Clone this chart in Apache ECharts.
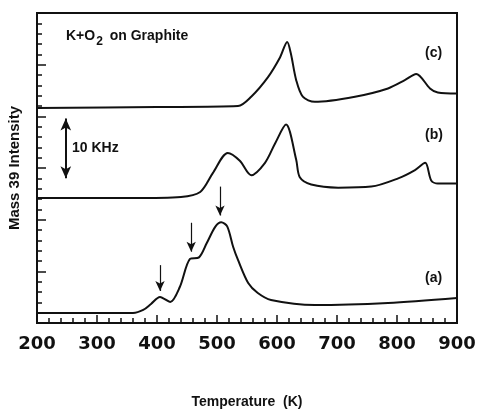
<!DOCTYPE html>
<html>
<head>
<meta charset="utf-8">
<script src="https://cdn.jsdelivr.net/npm/echarts@6/dist/echarts.min.js"></script>
<style>
  html, body { margin: 0; padding: 0; background: #fff; }
  #chart { width: 478px; height: 410px; }
</style>
</head>
<body>
<div id="chart"></div>
<script>
// curve (a)
var tempA = [200, 360, 377, 390, 405, 422, 438, 455, 470, 483, 497, 507, 517, 527, 535, 552, 568, 590, 663, 785, 900]
var valA = [0.97, 0.97, 1.26, 1.84, 2.52, 2.03, 3.48, 6.2, 6.35, 7.74, 9.3, 9.75, 9.35, 7.35, 6.1, 3.87, 2.9, 2.23, 1.74, 1.94, 2.42]
// curve (b)
var tempB = [200, 360, 440, 472, 493, 518, 538, 557, 580, 597, 615, 632, 638, 657, 702, 757, 802, 830, 847, 857, 868, 900]
var valB = [12.1, 12.1, 12.2, 12.68, 14.5, 16.45, 15.7, 14.3, 15.5, 17.4, 19.2, 15.8, 14.1, 13.4, 13.1, 13.2, 14.0, 14.8, 15.5, 13.8, 13.5, 13.5]
// curve (c)
var tempC = [200, 400, 535, 557, 585, 605, 617, 623, 632, 643, 663, 730, 785, 813, 832, 855, 868, 900]
var valC = [20.8, 20.9, 21.0, 21.9, 23.8, 25.7, 27.2, 26.1, 23.5, 21.9, 21.4, 21.9, 22.7, 23.5, 24.1, 22.7, 22.3, 22.2]
// arrows marking the peaks of (a): [temp, top, tip]
var peakArrows = [[405, 5.6, 3.1], [457, 9.7, 6.9], [505, 13.2, 10.4]]
// 10 KHz scale bar: [temp, top, bottom]
var scaleBar = [248, 19.8, 14.0]

function pairs(xs, ys) {
  return xs.map(function (x, i) { return [x, ys[i]] })
}

var font = 'Liberation Sans'
var lineStyle = { color: '#111', width: 2 }

var chart = echarts.init(document.getElementById('chart'))
chart.setOption({
  backgroundColor: '#fff',
  animation: false,
  grid: {
    left: 37, right: 21, top: 13, bottom: 87,
    outerBoundsMode: 'none',
    show: true, borderColor: '#111', borderWidth: 2
  },
  xAxis: {
    type: 'value',
    min: 200,
    max: 900,
    interval: 100,
    name: 'Temperature  (K)',
    nameLocation: 'middle',
    nameGap: 72,
    nameTextStyle: { fontFamily: font, fontWeight: 'bold', fontSize: 14, color: '#111' },
    axisLine: { lineStyle: { color: '#111', width: 2 } },
    axisTick: { inside: true, length: 8, lineStyle: { color: '#111', width: 1.5 } },
    minorTick: { show: true, splitNumber: 5, length: 5, lineStyle: { color: '#111', width: 1.5 } },
    axisLabel: { fontFamily: 'DejaVu Sans', fontWeight: 'bold', fontSize: 18, color: '#111', margin: 12 },
    splitLine: { show: false }
  },
  yAxis: {
    type: 'value',
    min: 0,
    max: 30,
    interval: 5,
    name: 'Mass 39 Intensity',
    nameLocation: 'middle',
    nameGap: 15,
    nameTextStyle: { fontFamily: font, fontWeight: 'bold', fontSize: 15, color: '#111' },
    axisLine: { lineStyle: { color: '#111', width: 2 } },
    axisTick: { inside: true, length: 9, lineStyle: { color: '#111', width: 1.5 } },
    minorTick: { show: true, splitNumber: 5, length: 5, lineStyle: { color: '#111', width: 1.5 } },
    axisLabel: { show: false },
    splitLine: { show: false }
  },
  series: [
    {
      name: '(a)', type: 'line', data: pairs(tempA, valA), smooth: 0.3,
      showSymbol: false, lineStyle: lineStyle,
      markLine: {
        silent: true,
        symbol: ['none', 'arrow'],
        symbolSize: [7, 10],
        label: { show: false },
        lineStyle: { color: '#111', width: 1.2, type: 'solid' },
        data: peakArrows.map(function (a) {
          return [{ coord: [a[0], a[1]] }, { coord: [a[0], a[2]] }]
        })
      }
    },
    {
      name: '(b)', type: 'line', data: pairs(tempB, valB), smooth: 0.3,
      showSymbol: false, lineStyle: lineStyle,
      markLine: {
        silent: true,
        symbol: ['arrow', 'arrow'],
        symbolSize: [8, 12],
        label: { show: false },
        lineStyle: { color: '#111', width: 2, type: 'solid' },
        data: [[{ coord: [scaleBar[0], scaleBar[1]] }, { coord: [scaleBar[0], scaleBar[2]] }]]
      }
    },
    {
      name: '(c)', type: 'line', data: pairs(tempC, valC), smooth: 0.3,
      showSymbol: false, lineStyle: lineStyle
    }
  ],
  graphic: [
    {
      type: 'text', left: 66, top: 29,
      style: {
        text: 'K+O{sub|2} on Graphite',
        fontFamily: font, fontSize: 14, fontWeight: 'bold', fill: '#111',
        rich: { sub: { fontFamily: font, fontSize: 12, fontWeight: 'bold', padding: [12, 3, 0, 1], fill: '#111' } }
      }
    },
    { type: 'text', left: 72, top: 141, style: { text: '10 KHz', fontFamily: font, fontSize: 14, fontWeight: 'bold', fill: '#111' } },
    { type: 'text', left: 425, top: 46, style: { text: '(c)', fontFamily: font, fontSize: 14, fontWeight: 'bold', fill: '#111' } },
    { type: 'text', left: 425, top: 128, style: { text: '(b)', fontFamily: font, fontSize: 14, fontWeight: 'bold', fill: '#111' } },
    { type: 'text', left: 425, top: 271, style: { text: '(a)', fontFamily: font, fontSize: 14, fontWeight: 'bold', fill: '#111' } }
  ]
})
</script>
</body>
</html>
